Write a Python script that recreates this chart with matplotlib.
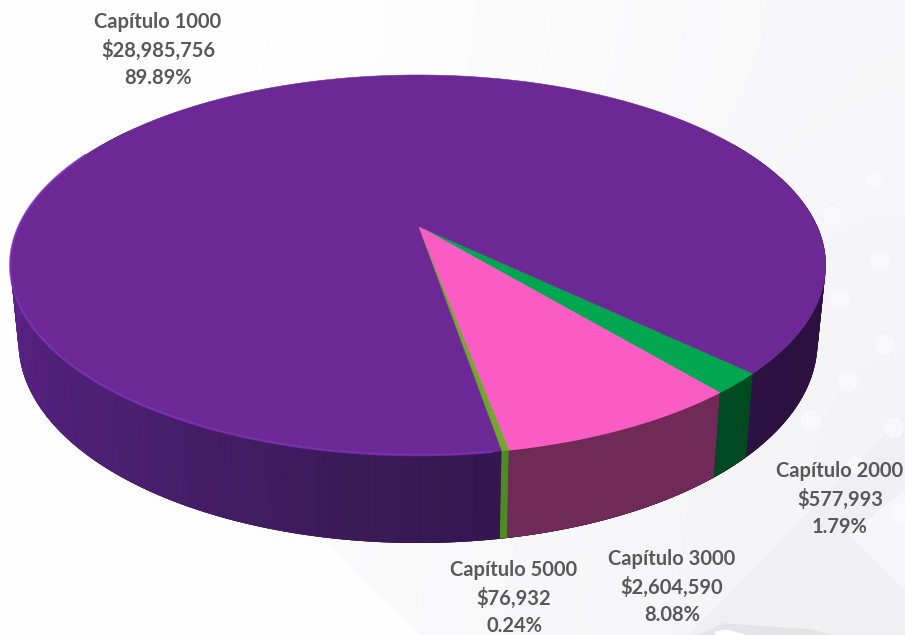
import numpy as np
import matplotlib
matplotlib.use("Agg")
import matplotlib.pyplot as plt
from matplotlib.colors import LinearSegmentedColormap
from matplotlib.patches import Polygon, Circle

# Datos del gráfico, en el orden en que aparecen girando desde la derecha
capitulos = ["Capítulo 2000", "Capítulo 3000", "Capítulo 5000", "Capítulo 1000"]
montos = [577993, 2604590, 76932, 28985756]
montos_txt = ["$577,993", "$2,604,590", "$76,932", "$28,985,756"]
porcentajes = ["1.79%", "8.08%", "0.24%", "89.89%"]

colores_top = ["#00a650", "#fb5cc4", "#6fa82c", "#6c2894"]
colores_lado = ["#004a22", "#6f2a58", "#4f8a22", None]
pos_etiquetas = [(840, 499), (672, 587), (514, 598), (158, 50)]

# Proyección en perspectiva del círculo de la tapa
CX, CY = 418, 226
A, B, K = 399, 182, 0.2053
INICIO = 44.0
ESCALA_BASE = 0.98


def proyecta(ang):
    t = np.radians(ang)
    u, v = np.cos(t), np.sin(t)
    w = 1 - K * v
    return CX + A * u / w, CY + B * v / w, v


def base(ang):
    x, y, v = proyecta(ang)
    return CX + (x - CX) * ESCALA_BASE, y + 74 + 14 * v


fig = plt.figure(figsize=(9.05, 6.35), dpi=100, facecolor="#f8f8fa")
ax = fig.add_axes([0, 0, 1, 1])
ax.set_xlim(0, 905)
ax.set_ylim(635, 0)
ax.axis("off")

# Fondo claro con formas y círculos tenues
fondo = np.array([[1.00, 0.995, 0.985, 0.97],
                  [1.00, 0.99, 0.975, 0.96],
                  [0.995, 0.98, 0.97, 0.96]])
cmap_fondo = LinearSegmentedColormap.from_list("fondo", ["#f2f2f5", "#ffffff"])
ax.imshow(fondo, extent=(0, 905, 635, 0), cmap=cmap_fondo, vmin=0.95, vmax=1.0,
          interpolation="bicubic", aspect="auto", zorder=0)
ax.set_xlim(0, 905)
ax.set_ylim(635, 0)
ax.add_patch(Polygon([(0, 440), (130, 350), (420, 635), (0, 635)], color="#fdfdfe", zorder=1))
ax.add_patch(Polygon([(690, 635), (905, 415), (905, 635)], color="#f0f0f3", zorder=1))
ax.add_patch(Polygon([(850, 535), (905, 490), (905, 590)], color="#f7f7f9", zorder=1))
ax.add_patch(Polygon([(700, 635), (724, 624), (810, 630), (830, 635)], color="#e4e4e8", zorder=1))
ax.add_patch(Polygon([(716, 632), (726, 630), (745, 635), (716, 635)], color="#ffffff", zorder=2))
for x, y, r in [(875, 180, 8), (880, 262, 9), (840, 298, 9), (885, 345, 9),
                (848, 382, 9), (811, 421, 9), (894, 428, 9), (856, 465, 8),
                (900, 513, 9), (832, 215, 8)]:
    ax.add_patch(Circle((x, y), r, color="#fbfbfd", alpha=0.8, zorder=2))

# Ángulos de cada rebanada a partir de los montos
total = sum(montos)
limites = INICIO + np.cumsum([0] + montos) / total * 360

# Pared lateral del cilindro, en tiras solapadas para dar el degradado
cmap_lado = LinearSegmentedColormap.from_list(
    "lado", [(0, "#2b1040"), (0.22, "#2f1248"), (0.42, "#3b1a58"),
             (0.62, "#4a1f70"), (0.85, "#5a2284"), (1, "#632494")])
tiras = np.arange(-30, 215, 0.5)
for a0 in tiras:
    a1 = a0 + 1.5
    x0, y0, _ = proyecta(a0)
    x1, y1, _ = proyecta(a1)
    bx0, by0 = base(a0)
    bx1, by1 = base(a1)
    f = np.clip((a0 - 30) / (190 - 30), 0, 1)
    ax.add_patch(Polygon([(x0, y0), (x1, y1), (bx1, by1), (bx0, by0)], closed=True,
                         facecolor=cmap_lado(f), edgecolor="none", zorder=3))

# Las tres rebanadas chicas tienen su propio color en la pared
for i in range(3):
    angs = np.linspace(limites[i], limites[i + 1], 60)
    xs, ys, _ = proyecta(angs)
    bxs, bys = base(angs)
    pts = list(zip(xs, ys)) + list(zip(bxs[::-1], bys[::-1]))
    ax.add_patch(Polygon(pts, closed=True, facecolor=colores_lado[i], edgecolor="none", zorder=3.5))

# Tapa: una rebanada por capítulo, todas con el vértice en el centro proyectado
for i in range(4):
    angs = np.linspace(limites[i], limites[i + 1], max(int(limites[i + 1] - limites[i]) * 2, 4))
    xs, ys, _ = proyecta(angs)
    pts = [(CX, CY)] + list(zip(xs, ys))
    ax.add_patch(Polygon(pts, closed=True, facecolor=colores_top[i], edgecolor=colores_top[i],
                         lw=0.4, zorder=4))

# Brillo del borde de la tapa
angs = np.linspace(limites[2] + 2, 205, 200)
xs, ys, _ = proyecta(angs)
ax.plot(xs, ys, color="#7f33b8", lw=1.8, alpha=0.75, zorder=5, solid_capstyle="round")

# Etiquetas
for i in range(4):
    x, y = pos_etiquetas[i]
    texto = f"{capitulos[i]}\n{montos_txt[i]}\n{porcentajes[i]}"
    ax.text(x, y, texto, ha="center", va="center", family="Lato", fontweight="bold",
            fontsize=14.5, color="#595959", linespacing=1.43, zorder=6)

fig.savefig("out.png", dpi=100, facecolor=fig.get_facecolor())
